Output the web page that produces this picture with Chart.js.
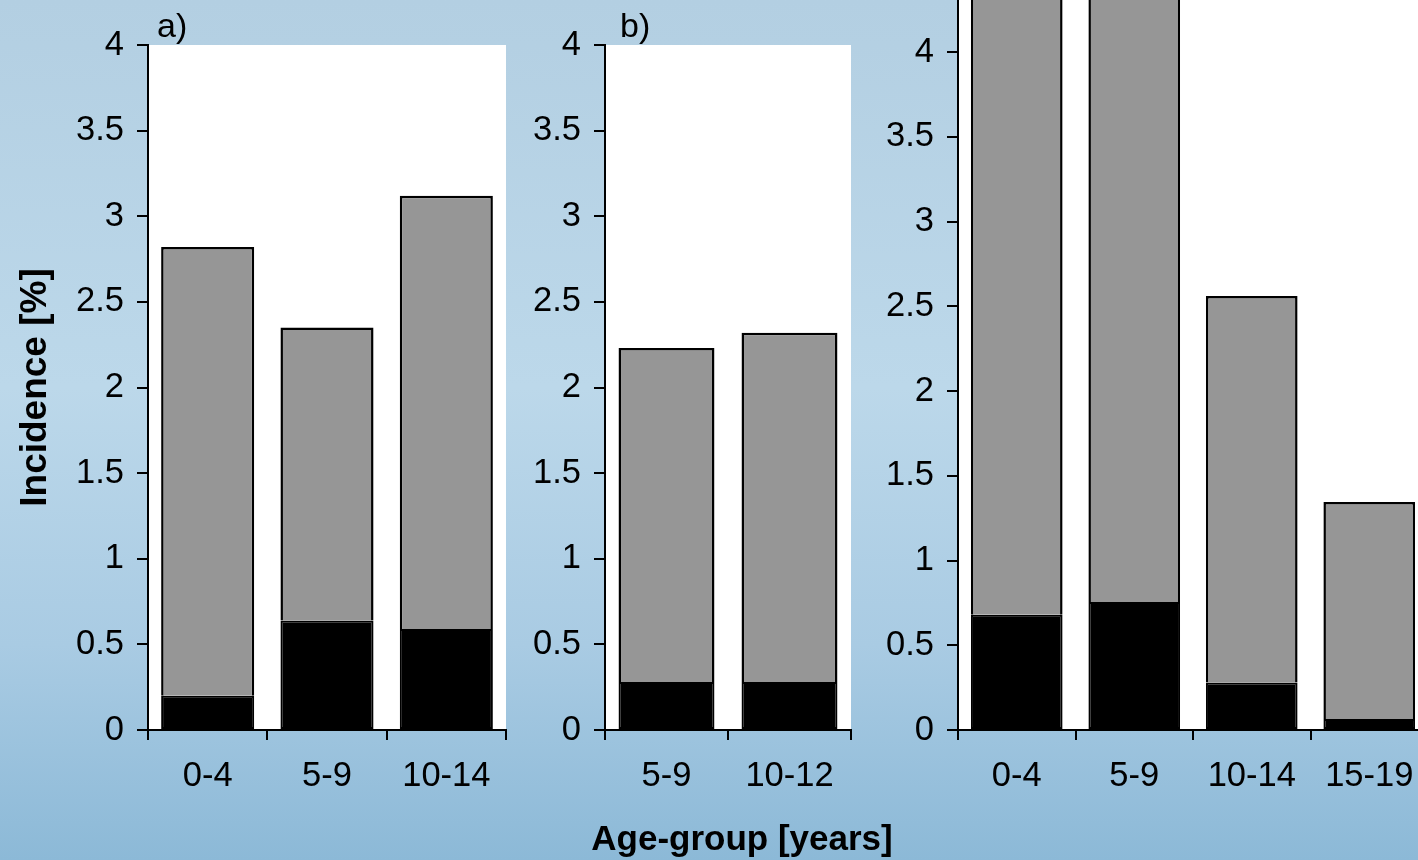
<!DOCTYPE html>
<html>
<head>
<meta charset="utf-8">
<script src="https://cdn.jsdelivr.net/npm/chart.js"></script>
<style>
  html, body { margin: 0; padding: 0; }
  body {
    width: 1418px; height: 860px; overflow: hidden; position: relative;
    background: linear-gradient(to bottom, #b3cfe2 0%, #bcd8ea 45%, #a9cbe3 75%, #8cb9d7 100%);
    font-family: 'Liberation Sans', Arial, sans-serif;
  }
  canvas { position: absolute; }
  #xTitle {
    position: absolute; left: 542px; top: 820px; width: 400px;
    text-align: center; font-weight: bold; font-size: 35px; line-height: 35px; color: #000;
  }
</style>
</head>
<body>
<canvas id="chartA" width="520" height="860" style="left:0px;top:0px"></canvas>
<canvas id="chartB" width="400" height="860" style="left:470px;top:0px"></canvas>
<canvas id="chartC" width="640" height="920" style="left:800px;top:-60px"></canvas>
<div id="xTitle">Age-group [years]</div>

<script>
// Panel a)
const catsA = ['0-4', '5-9', '10-14'];
const severeA = [0.20, 0.64, 0.59];
const totalA = [2.82, 2.35, 3.12];

// Panel b)
const catsB = ['5-9', '10-12'];
const severeB = [0.28, 0.28];
const totalB = [2.23, 2.32];

// Panel c) - first two bars run off the top of the picture
const catsC = ['0-4', '5-9', '10-14', '15-19'];
const severeC = [0.68, 0.755, 0.28, 0.065];
const totalC = [5.4, 5.8, 2.56, 1.345];

const yTicks = [0, 0.5, 1, 1.5, 2, 2.5, 3, 3.5, 4];

const FONT = "'Liberation Sans', Arial, sans-serif";

// white plot area + panel letter
const panelPlugin = {
  id: 'panel',
  beforeDraw(chart, args, opts) {
    const a = chart.chartArea;
    const ctx = chart.ctx;
    ctx.save();
    ctx.fillStyle = '#ffffff';
    ctx.fillRect(a.left, a.top, a.right - a.left, a.bottom - a.top);
    ctx.restore();
  },
  afterDraw(chart, args, opts) {
    if (!opts.label) return;
    const a = chart.chartArea;
    const ctx = chart.ctx;
    ctx.save();
    ctx.fillStyle = '#000';
    ctx.font = '34px ' + FONT;
    ctx.textBaseline = 'alphabetic';
    ctx.fillText(opts.label, a.left + opts.dx, a.top + opts.dy);
    ctx.restore();
  }
};

// Function to build one stacked bar panel
function makePanel(id, cats, severe, total, cfg) {
  var gray = total.map(function(t, i) { return t - severe[i]; });
  var ctx = document.getElementById(id).getContext('2d');
  return new Chart(ctx, {
    type: 'bar',
    data: {
      labels: cats,
      datasets: [{
        data: severe,
        backgroundColor: '#000000',
        borderColor: '#000000',
        borderWidth: 2,
        borderSkipped: false
      }, {
        data: gray,
        backgroundColor: '#969696',
        borderColor: '#000000',
        borderWidth: 2.5,
        borderSkipped: 'bottom'
      }]
    },
    options: {
      responsive: false,
      animation: false,
      events: [],
      categoryPercentage: 1,
      barPercentage: 0.78,
      layout: { padding: { left: 0, top: cfg.top, right: cfg.right, bottom: 0 } },
      plugins: {
        legend: { display: false },
        tooltip: { enabled: false },
        panel: { label: cfg.label, dx: cfg.labelDx, dy: -8 }
      },
      scales: {
        x: {
          stacked: true,
          grid: { offset: true, drawOnChartArea: false, drawTicks: true, tickLength: 10, color: '#000', lineWidth: 2 },
          border: { display: true, color: '#000', width: 2 },
          ticks: { color: '#000', padding: 16, font: { family: FONT, size: 34.5 }, maxRotation: 0 },
          afterFit: function(scale) { scale.height = 130; }
        },
        y: {
          stacked: true,
          min: 0,
          max: cfg.max,
          afterBuildTicks: function(scale) {
            scale.ticks = yTicks.filter(function(v) { return v <= cfg.max; }).map(function(v) { return { value: v }; });
          },
          grid: { drawOnChartArea: false, drawTicks: true, tickLength: 11, color: '#000', lineWidth: 2 },
          border: { display: true, color: '#000', width: 2 },
          ticks: {
            color: '#000', padding: 13, font: { family: FONT, size: 34.5 }, includeBounds: false,
            callback: function(value) { return String(value); }
          },
          title: {
            display: !!cfg.yTitle,
            text: cfg.yTitle || '',
            color: '#000',
            font: { family: FONT, size: 37, weight: 'bold' },
            padding: { top: 14, bottom: 0 }
          },
          afterFit: function(scale) { scale.width = cfg.yWidth; }
        }
      }
    },
    plugins: [panelPlugin]
  });
}

makePanel('chartA', catsA, severeA, totalA, { top: 45, right: 14, yWidth: 148, max: 4, label: 'a)', labelDx: 9, yTitle: 'Incidence [%]' });
makePanel('chartB', catsB, severeB, totalB, { top: 45, right: 19, yWidth: 135, max: 4, label: 'b)', labelDx: 15 });
makePanel('chartC', catsC, severeC, totalC, { top: 60, right: 12, yWidth: 158, max: 4.307 });
</script>
</body>
</html>
